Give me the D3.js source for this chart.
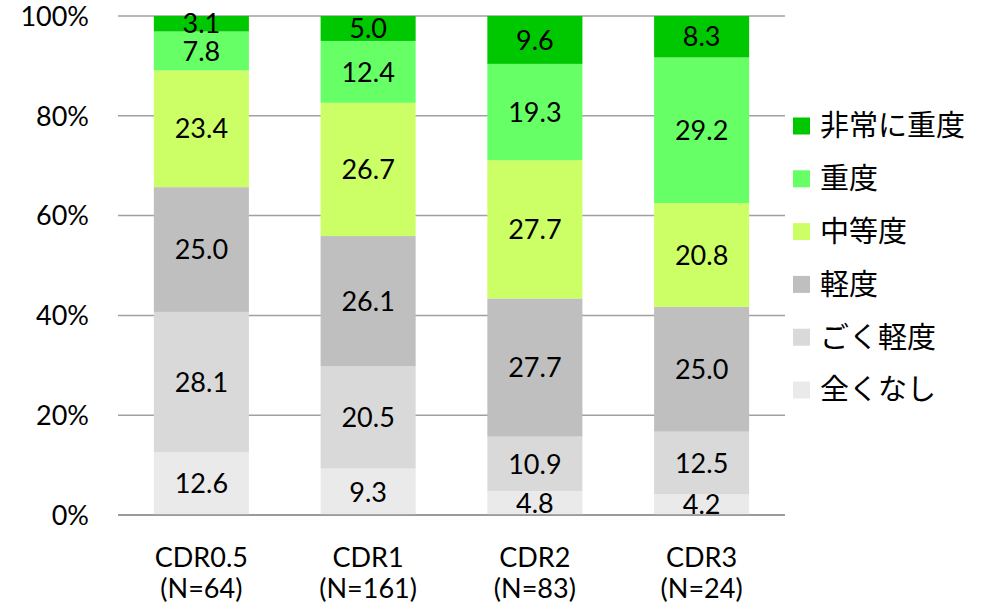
<!DOCTYPE html>
<html>
<head>
<meta charset="utf-8">
<script src="https://cdn.jsdelivr.net/npm/d3@7"></script>
<style>
  body { margin: 0; background: #fff; }
  text { font-family: Lato, "Noto Sans CJK JP", sans-serif; fill: #000; }
</style>
</head>
<body>
<div id="chart"></div>
<script>
// categories (two-line labels)
var categories = ["CDR0.5", "CDR1", "CDR2", "CDR3"];
var counts = ["(N=64)", "(N=161)", "(N=83)", "(N=24)"];

// series, bottom to top
var seriesNames = ["全くなし", "ごく軽度", "軽度", "中等度", "重度", "非常に重度"];
var none      = [12.6, 9.3, 4.8, 4.2];
var veryMild  = [28.1, 20.5, 10.9, 12.5];
var mild      = [25.0, 26.1, 27.7, 25.0];
var moderate  = [23.4, 26.7, 27.7, 20.8];
var severe    = [7.8, 12.4, 19.3, 29.2];
var verySevere = [3.1, 5.0, 9.6, 8.3];

var yTicks = [0, 20, 40, 60, 80, 100];

var colors = ["#EAEAEA", "#D9D9D9", "#BFBFBF", "#CCFF66", "#66FF66", "#00C800"];

var seriesValues = [none, veryMild, mild, moderate, severe, verySevere];

var table = categories.map(function(c, i) {
    var row = { cat: c };
    seriesNames.forEach(function(s, j) { row[s] = seriesValues[j][i]; });
    return row;
});

var width = 987, height = 606;
var margin = { top: 16, left: 118, right: 202, bottom: 91 };

var svg = d3.select("#chart")
    .append("svg")
    .attr("width", width)
    .attr("height", height);

var x = d3.scaleBand()
    .domain(categories)
    .range([margin.left, width - margin.right])
    .paddingInner(0.43)
    .paddingOuter(0.215);

var y = d3.scaleLinear()
    .domain([0, 100])
    .range([height - margin.bottom, margin.top]);

// gridlines
svg.selectAll(".grid")
    .data(yTicks)
    .enter()
    .append("line")
    .attr("x1", margin.left)
    .attr("x2", width - margin.right)
    .attr("y1", d => y(d))
    .attr("y2", d => y(d))
    .attr("stroke", "#A0A0A0")
    .attr("stroke-width", 1.5);

// y tick labels
svg.selectAll(".ytick")
    .data(yTicks)
    .enter()
    .append("text")
    .attr("x", 89)
    .attr("y", d => y(d))
    .attr("dy", "0.36em")
    .attr("text-anchor", "end")
    .style("font-size", "27px")
    .text(d => d + "%");

var stacked = d3.stack().keys(seriesNames)(table);

var layers = svg.selectAll(".layer")
    .data(stacked)
    .enter()
    .append("g")
    .attr("fill", (d, i) => colors[i]);

layers.selectAll("rect")
    .data(d => d)
    .enter()
    .append("rect")
    .attr("x", d => x(d.data.cat))
    .attr("y", d => y(d[1]))
    .attr("width", x.bandwidth())
    .attr("height", d => y(d[0]) - y(d[1]));

// value labels
layers.selectAll("text")
    .data(d => d.map(p => ({ p: p, v: p[1] - p[0] })))
    .enter()
    .append("text")
    .attr("x", d => x(d.p.data.cat) + x.bandwidth() / 2)
    .attr("y", d => (y(d.p[0]) + y(d.p[1])) / 2)
    .attr("dy", "0.36em")
    .attr("text-anchor", "middle")
    .style("font-size", "27px")
    .text(d => d.v.toFixed(1));

// baseline
svg.append("line")
    .attr("x1", margin.left)
    .attr("x2", width - margin.right)
    .attr("y1", y(0))
    .attr("y2", y(0))
    .attr("stroke", "#909090")
    .attr("stroke-width", 1.5);

// category labels
var catLabels = svg.selectAll(".cat")
    .data(categories)
    .enter()
    .append("text")
    .attr("text-anchor", "middle")
    .style("font-size", "27px");

catLabels.append("tspan")
    .attr("x", d => x(d) + x.bandwidth() / 2)
    .attr("y", 567)
    .text(d => d);

catLabels.append("tspan")
    .attr("x", d => x(d) + x.bandwidth() / 2)
    .attr("y", 598)
    .text((d, i) => counts[i]);

// legend (top to bottom: most severe first)
var legendItems = seriesNames.map((s, i) => ({ name: s, color: colors[i] })).reverse();

var legend = svg.selectAll(".legend")
    .data(legendItems)
    .enter()
    .append("g")
    .attr("transform", (d, i) => "translate(793," + (126 + i * 52.8) + ")");

legend.append("rect")
    .attr("x", 0)
    .attr("y", -8.5)
    .attr("width", 17)
    .attr("height", 17)
    .attr("fill", d => d.color);

legend.append("text")
    .attr("x", 27)
    .attr("y", 0)
    .attr("dy", "0.36em")
    .style("font-size", "29px")
    .text(d => d.name);
</script>
</body>
</html>
